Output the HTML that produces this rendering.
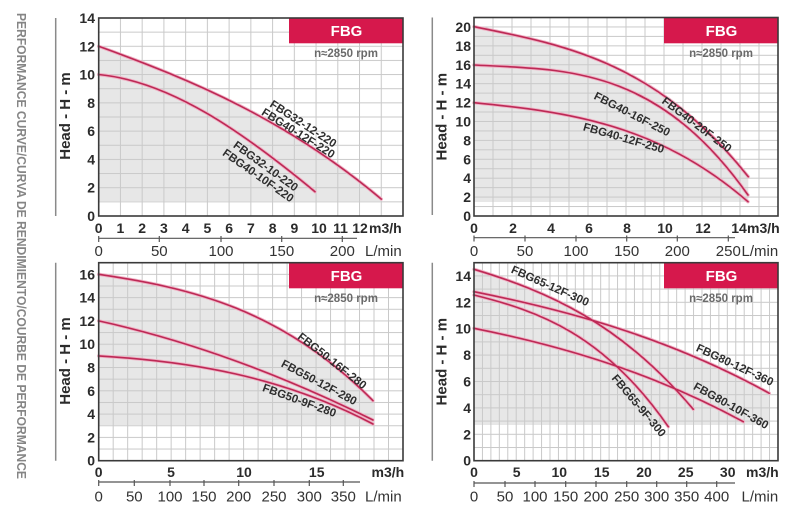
<!DOCTYPE html>
<html><head><meta charset="utf-8"><style>
html,body{margin:0;padding:0;background:#fff;overflow:hidden}
svg{display:block}
</style></head><body>
<svg width="800" height="511" viewBox="0 0 800 511" xmlns="http://www.w3.org/2000/svg" font-family="'Liberation Sans', sans-serif">
<defs>
<pattern id="p1" patternUnits="userSpaceOnUse" x="98.2" y="17.5" width="21.736" height="14.143"><rect width="1" height="14.143" fill="#c9c9c9"/><rect width="21.736" height="1" fill="#c9c9c9"/></pattern>
<pattern id="p2" patternUnits="userSpaceOnUse" x="473.5" y="17" width="19" height="9.452"><rect width="1" height="9.452" fill="#c9c9c9"/><rect width="19" height="1" fill="#c9c9c9"/></pattern>
<pattern id="p3" patternUnits="userSpaceOnUse" x="98.2" y="262.2" width="14.49" height="11.647"><rect width="1" height="11.647" fill="#c9c9c9"/><rect width="14.49" height="1" fill="#c9c9c9"/></pattern>
<pattern id="p4" patternUnits="userSpaceOnUse" x="473.5" y="262.2" width="8.444" height="13.2"><rect width="1" height="13.2" fill="#c9c9c9"/><rect width="8.444" height="1" fill="#c9c9c9"/></pattern>
</defs>
<rect width="800" height="511" fill="#fff"/>

<!-- left vertical title -->
<text transform="translate(17,13) rotate(90)" font-size="13" font-weight="bold" fill="#858585" textLength="466" lengthAdjust="spacingAndGlyphs">PERFORMANCE CURVE/CURVA DE RENDIMIENTO/COURBE DE PERFORMANCE</text>

<!-- separators -->
<g stroke="#8a8a8a" stroke-width="1.5">
<line x1="55.7" y1="18" x2="55.7" y2="216"/>
<line x1="55.7" y1="262.7" x2="55.7" y2="460.7"/>
<line x1="432.3" y1="17.5" x2="432.3" y2="215"/>
<line x1="432.3" y1="262.7" x2="432.3" y2="460.7"/>
</g>

<!-- Head labels -->
<g font-size="15" font-weight="bold" fill="#2b2b2b" text-anchor="middle">
<text transform="translate(65,116) rotate(-90)" dy="5">Head - H - m</text>
<text transform="translate(441.7,116.7) rotate(-90)" dy="5">Head - H - m</text>
<text transform="translate(65,361) rotate(-90)" dy="5">Head - H - m</text>
<text transform="translate(441.7,361.7) rotate(-90)" dy="5">Head - H - m</text>
</g>

<!-- gray fills -->
<g fill="#e7e7e7">
<path d="M98.7,46.3 C192.9,80.4 287.1,119.9 381.3,199.1 L381.3,201 L98.7,201 Z"/>
<path d="M474,26.7 C565.4,45 656.9,62 748.3,176.7 L748.3,202 L474,202 Z"/>
<path d="M98.7,274.3 C190.2,288 281.5,308.4 373,400.7 L373,425 L98.7,425 Z"/>
<path d="M474,269.3 C547.1,291.2 620.2,322.6 693.3,409.3 L693.3,425 L474,425 Z"/>
<path d="M474,291.7 C572.4,311.4 670.9,338.9 769.3,393.3 L769.3,425 L474,425 Z"/>
</g>

<!-- grids -->
<rect x="98.7" y="18" width="304.3" height="198" fill="url(#p1)"/>
<rect x="474" y="17.5" width="304" height="198.5" fill="url(#p2)"/>
<rect x="98.7" y="262.7" width="304.3" height="198" fill="url(#p3)"/>
<rect x="474" y="262.7" width="304" height="198" fill="url(#p4)"/>

<!-- FBG boxes -->
<g fill="#d6184c">
<rect x="289" y="18" width="114.3" height="25.3"/>
<rect x="664" y="17.5" width="114" height="25.8"/>
<rect x="289" y="262.7" width="114.3" height="25.6"/>
<rect x="664" y="262.7" width="114" height="25.6"/>
</g>
<g font-size="15" font-weight="bold" fill="#fff" text-anchor="middle">
<text x="346.5" y="36">FBG</text>
<text x="721.5" y="35.8">FBG</text>
<text x="346.5" y="280.8">FBG</text>
<text x="721.5" y="280.8">FBG</text>
</g>
<g font-size="11.5" font-weight="bold" fill="#6a6a6a" text-anchor="middle">
<text x="346" y="57">n≈2850 rpm</text>
<text x="721" y="57">n≈2850 rpm</text>
<text x="346" y="302">n≈2850 rpm</text>
<text x="721" y="302">n≈2850 rpm</text>
</g>

<!-- curves -->
<g fill="none" stroke="#efb2c5" stroke-width="3.4" stroke-linecap="round">
<path d="M98.7,46.3 C192.9,80.4 287.1,119.9 381.3,199.1"/>
<path d="M98.7,74.5 C170.8,81.5 242.9,132 315,191.7"/>
<path d="M474,26.7 C565.4,45 656.9,62 748.3,176.7"/>
<path d="M474,65 C565.3,69.6 656.7,66 748,195"/>
<path d="M474,102.7 C565.3,111.8 656.7,122.7 748,201.7"/>
<path d="M98.7,274.3 C190.2,288 281.5,308.4 373,400.7"/>
<path d="M98.7,320.9 C190.2,341 281.5,374.7 373,420"/>
<path d="M98.7,355.9 C190.2,361.4 281.5,376 373,424"/>
<path d="M474,269.3 C547.1,291.2 620.2,322.6 693.3,409.3"/>
<path d="M474,295 C538.8,311.2 603.5,333.6 668.3,426.7"/>
<path d="M474,291.7 C572.4,311.4 670.9,338.9 769.3,393.3"/>
<path d="M474,328.3 C563.8,346.3 653.5,373 743.3,421.7"/>
</g>
<g fill="none" stroke="#bd2955" stroke-width="1.6" stroke-linecap="round">
<path d="M98.7,46.3 C192.9,80.4 287.1,119.9 381.3,199.1"/>
<path d="M98.7,74.5 C170.8,81.5 242.9,132 315,191.7"/>
<path d="M474,26.7 C565.4,45 656.9,62 748.3,176.7"/>
<path d="M474,65 C565.3,69.6 656.7,66 748,195"/>
<path d="M474,102.7 C565.3,111.8 656.7,122.7 748,201.7"/>
<path d="M98.7,274.3 C190.2,288 281.5,308.4 373,400.7"/>
<path d="M98.7,320.9 C190.2,341 281.5,374.7 373,420"/>
<path d="M98.7,355.9 C190.2,361.4 281.5,376 373,424"/>
<path d="M474,269.3 C547.1,291.2 620.2,322.6 693.3,409.3"/>
<path d="M474,295 C538.8,311.2 603.5,333.6 668.3,426.7"/>
<path d="M474,291.7 C572.4,311.4 670.9,338.9 769.3,393.3"/>
<path d="M474,328.3 C563.8,346.3 653.5,373 743.3,421.7"/>
</g>

<!-- curve labels -->
<g font-size="11.5" font-weight="bold" fill="#2e2e2e" text-anchor="middle">
<text transform="translate(303.4,123.6) rotate(33)" dy="4">FBG32-12-220</text>
<text transform="translate(298.4,133) rotate(32)" dy="4">FBG40-12F-220</text>
<text transform="translate(265.9,166) rotate(36)" dy="4">FBG32-10-220</text>
<text transform="translate(258.3,175.4) rotate(35)" dy="4">FBG40-10F-220</text>
<text transform="translate(697,124.5) rotate(37)" dy="4">FBG40-20F-250</text>
<text transform="translate(632.2,114) rotate(27)" dy="4">FBG40-16F-250</text>
<text transform="translate(623.8,137.8) rotate(16)" dy="4">FBG40-12F-250</text>
<text transform="translate(332.3,360.7) rotate(38)" dy="4">FBG50-16F-280</text>
<text transform="translate(319.2,382.2) rotate(28)" dy="4">FBG50-12F-280</text>
<text transform="translate(299.5,400.2) rotate(20)" dy="4">FBG50-9F-280</text>
<text transform="translate(550.3,285.7) rotate(24)" dy="4">FBG65-12F-300</text>
<text transform="translate(639,405.5) rotate(50)" dy="4">FBG65-9F-300</text>
<text transform="translate(735,364.7) rotate(25)" dy="4">FBG80-12F-360</text>
<text transform="translate(731.2,405.5) rotate(29)" dy="4">FBG80-10F-360</text>
</g>

<!-- frames -->
<g fill="none" stroke="#3a3a3a" stroke-width="1.6">
<rect x="98.7" y="18" width="304.3" height="198"/>
<rect x="474" y="17.5" width="304" height="198.5"/>
<rect x="98.7" y="262.7" width="304.3" height="198"/>
<rect x="474" y="262.7" width="304" height="198"/>
</g>

<!-- y tick labels -->
<g font-size="14" font-weight="bold" fill="#2b2b2b" text-anchor="end">
<text x="95" y="221">0</text><text x="95" y="192.7">2</text><text x="95" y="164.4">4</text><text x="95" y="136.1">6</text><text x="95" y="107.9">8</text><text x="95" y="79.6">10</text><text x="95" y="51.3">12</text><text x="95" y="23">14</text>
<text x="471" y="221">0</text><text x="471" y="202.1">2</text><text x="471" y="183.2">4</text><text x="471" y="164.3">6</text><text x="471" y="145.4">8</text><text x="471" y="126.5">10</text><text x="471" y="107.6">12</text><text x="471" y="88.7">14</text><text x="471" y="69.8">16</text><text x="471" y="50.9">18</text><text x="471" y="32">20</text>
<text x="95" y="465.7">0</text><text x="95" y="442.4">2</text><text x="95" y="419.1">4</text><text x="95" y="395.8">6</text><text x="95" y="372.5">8</text><text x="95" y="349.2">10</text><text x="95" y="325.9">12</text><text x="95" y="302.6">14</text><text x="95" y="279.3">16</text>
<text x="471" y="465.7">0</text><text x="471" y="439.3">2</text><text x="471" y="412.9">4</text><text x="471" y="386.5">6</text><text x="471" y="360.1">8</text><text x="471" y="333.7">10</text><text x="471" y="307.3">12</text><text x="471" y="280.9">14</text>
</g>

<!-- x tick labels m3/h -->
<g font-size="14" font-weight="bold" fill="#2b2b2b" text-anchor="middle">
<text x="98.7" y="233">0</text><text x="120.4" y="233">1</text><text x="142.2" y="233">2</text><text x="163.9" y="233">3</text><text x="185.7" y="233">4</text><text x="207.4" y="233">5</text><text x="229.1" y="233">6</text><text x="250.9" y="233">7</text><text x="272.6" y="233">8</text><text x="294.4" y="233">9</text><text x="319" y="233">10</text><text x="340.5" y="233">11</text><text x="360" y="233">12</text>
<text x="474" y="233">0</text><text x="513" y="233">2</text><text x="551" y="233">4</text><text x="589" y="233">6</text><text x="627" y="233">8</text><text x="665" y="233">10</text><text x="703" y="233">12</text><text x="739" y="233">14</text>
<text x="98.7" y="477">0</text><text x="171" y="477">5</text><text x="244" y="477">10</text><text x="316.7" y="477">15</text>
<text x="474" y="477">0</text><text x="516.7" y="477">5</text><text x="559.3" y="477">10</text><text x="601.7" y="477">15</text><text x="644" y="477">20</text><text x="685.7" y="477">25</text><text x="727.7" y="477">30</text>
</g>
<g font-size="14" font-weight="bold" fill="#2b2b2b">
<text x="369" y="233">m3/h</text>
<text x="747" y="233">m3/h</text>
<text x="371.5" y="477">m3/h</text>
<text x="746" y="477">m3/h</text>
</g>

<!-- L/min axes -->
<g stroke="#555" stroke-width="1.2">
<line x1="98.7" y1="238.3" x2="357" y2="238.3"/>
<line x1="98.7" y1="236" x2="98.7" y2="242"/><line x1="159.3" y1="236" x2="159.3" y2="242"/><line x1="221" y1="236" x2="221" y2="242"/><line x1="281.7" y1="236" x2="281.7" y2="242"/><line x1="342.3" y1="236" x2="342.3" y2="242"/>
<line x1="474" y1="237.7" x2="735" y2="237.7"/>
<line x1="474" y1="235.5" x2="474" y2="241.5"/><line x1="525" y1="235.5" x2="525" y2="241.5"/><line x1="576" y1="235.5" x2="576" y2="241.5"/><line x1="626.7" y1="235.5" x2="626.7" y2="241.5"/><line x1="677.3" y1="235.5" x2="677.3" y2="241.5"/><line x1="728.3" y1="235.5" x2="728.3" y2="241.5"/>
<line x1="98.7" y1="482" x2="360" y2="482"/>
<line x1="98.7" y1="480" x2="98.7" y2="486"/><line x1="134.3" y1="480" x2="134.3" y2="486"/><line x1="170" y1="480" x2="170" y2="486"/><line x1="204" y1="480" x2="204" y2="486"/><line x1="238.7" y1="480" x2="238.7" y2="486"/><line x1="274" y1="480" x2="274" y2="486"/><line x1="309.3" y1="480" x2="309.3" y2="486"/><line x1="343.3" y1="480" x2="343.3" y2="486"/>
<line x1="474" y1="483" x2="735" y2="483"/>
<line x1="474" y1="481" x2="474" y2="487"/><line x1="505" y1="481" x2="505" y2="487"/><line x1="535" y1="481" x2="535" y2="487"/><line x1="565.7" y1="481" x2="565.7" y2="487"/><line x1="596" y1="481" x2="596" y2="487"/><line x1="626.7" y1="481" x2="626.7" y2="487"/><line x1="656.7" y1="481" x2="656.7" y2="487"/><line x1="686.7" y1="481" x2="686.7" y2="487"/><line x1="716.7" y1="481" x2="716.7" y2="487"/>
</g>
<g font-size="15" fill="#333" text-anchor="middle">
<text x="98.7" y="256">0</text><text x="159.3" y="256">50</text><text x="221" y="256">100</text><text x="281.7" y="256">150</text><text x="342.3" y="256">200</text>
<text x="474" y="256">0</text><text x="525" y="256">50</text><text x="576" y="256">100</text><text x="626.7" y="256">150</text><text x="677.3" y="256">200</text><text x="728.3" y="256">250</text>
<text x="98.7" y="501.5">0</text><text x="134.3" y="501.5">50</text><text x="170" y="501.5">100</text><text x="204" y="501.5">150</text><text x="238.7" y="501.5">200</text><text x="274" y="501.5">250</text><text x="309.3" y="501.5">300</text><text x="343.3" y="501.5">350</text>
<text x="474" y="501.5">0</text><text x="505" y="501.5">50</text><text x="535" y="501.5">100</text><text x="565.7" y="501.5">150</text><text x="596" y="501.5">200</text><text x="626.7" y="501.5">250</text><text x="656.7" y="501.5">300</text><text x="686.7" y="501.5">350</text><text x="716.7" y="501.5">400</text>
</g>
<g font-size="15" fill="#333">
<text x="365" y="256">L/min</text>
<text x="741.5" y="256">L/min</text>
<text x="365" y="501.5">L/min</text>
<text x="741.5" y="501.5">L/min</text>
</g>
</svg>
</body></html>
